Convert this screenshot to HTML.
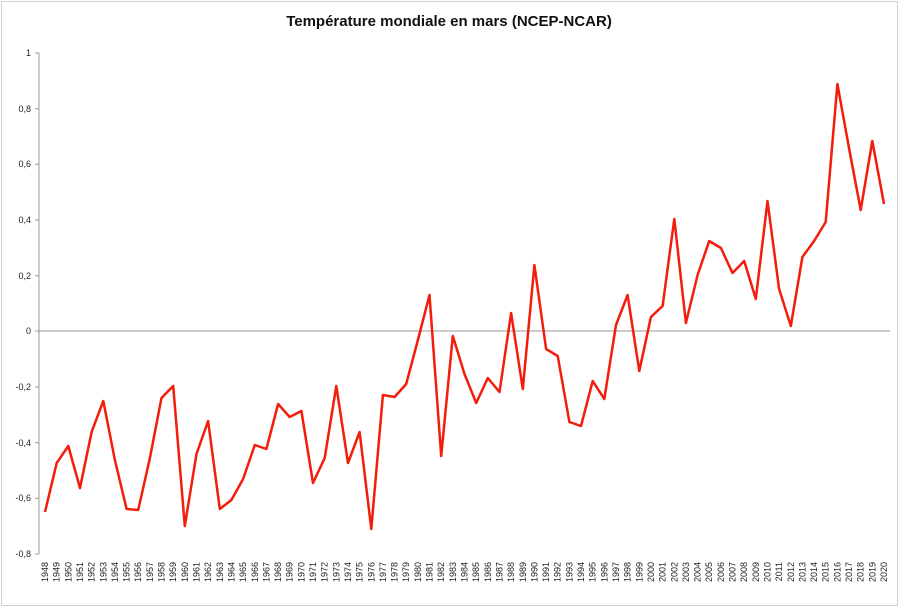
<!DOCTYPE html><html><head><meta charset="utf-8"><style>body{margin:0;background:#fff}</style></head><body>
<svg width="899" height="608" xmlns="http://www.w3.org/2000/svg" font-family="Liberation Sans, sans-serif">
<rect x="1.5" y="1.5" width="896" height="604" fill="#fff" stroke="#d0d0d0"/>
<text x="449" y="26" text-anchor="middle" font-size="15" font-weight="bold" fill="#111">Température mondiale en mars (NCEP-NCAR)</text>
<line x1="39" y1="53" x2="39" y2="554" stroke="#999"/>
<line x1="39" y1="331" x2="890" y2="331" stroke="#999"/>
<g stroke="#999">
<line x1="35" y1="53" x2="39" y2="53"/><line x1="35" y1="108.7" x2="39" y2="108.7"/><line x1="35" y1="164.3" x2="39" y2="164.3"/><line x1="35" y1="220" x2="39" y2="220"/><line x1="35" y1="275.7" x2="39" y2="275.7"/><line x1="35" y1="331" x2="39" y2="331"/><line x1="35" y1="387" x2="39" y2="387"/><line x1="35" y1="442.7" x2="39" y2="442.7"/><line x1="35" y1="498.3" x2="39" y2="498.3"/><line x1="35" y1="554" x2="39" y2="554"/>
</g>
<g font-size="9" fill="#222" text-anchor="end">
<text x="31" y="56">1</text><text x="31" y="112">0,8</text><text x="31" y="167">0,6</text><text x="31" y="223">0,4</text><text x="31" y="279">0,2</text><text x="31" y="334">0</text><text x="31" y="390">-0,2</text><text x="31" y="446">-0,4</text><text x="31" y="501">-0,6</text><text x="31" y="557">-0,8</text>
</g>
<g id="yrs" font-size="9" fill="#222" text-anchor="end"></g>
<polyline id="ln" fill="none" stroke="#f41c0a" stroke-width="2.5" stroke-linejoin="round" points=""/>
</svg>
<script>
var ys=[512,463,446,488,432,401,460,509,510,458,398,386,526,454,421,509,500,479,445,449,404,417,411,483,458,386,463,432,529,395,397,384,340,295,456,336,374,403,378,392,313,389,265,349,356,422,426,381,399,325,295,371,317,306,219,323,275,241,248,273,261,299,201,289,326,257,241,222,84,148,210,141,204];
var p=[],g=document.getElementById('yrs'),h='';
for(var i=0;i<ys.length;i++){var x=45+i*(839/72);p.push(x.toFixed(1)+','+ys[i]);
h+='<text transform="translate('+(x+3).toFixed(1)+',562) rotate(-90)">'+(1948+i)+'</text>';}
g.innerHTML=h;document.getElementById('ln').setAttribute('points',p.join(' '));
</script>
</body></html>
